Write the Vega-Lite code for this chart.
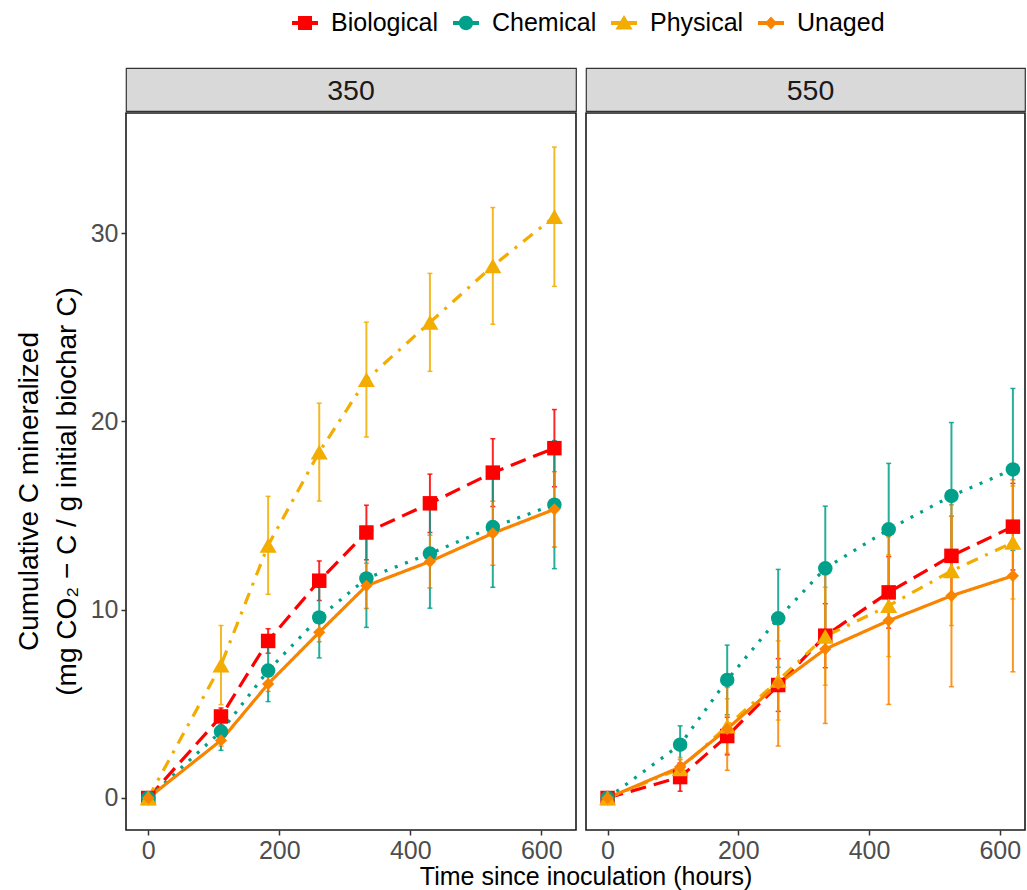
{
  "$schema": "https://vega.github.io/schema/vega-lite/v6.json",
  "padding": {"left": 14, "top": 10, "right": 0, "bottom": 0},
  "background": "white",
  "datasets": {
    "series": [
      {"panel": "350", "treatment": "Biological", "time": 0, "mean": 0, "lo": 0, "hi": 0},
      {"panel": "350", "treatment": "Biological", "time": 111, "mean": 4.33, "lo": 3.88, "hi": 4.78},
      {"panel": "350", "treatment": "Biological", "time": 183, "mean": 8.34, "lo": 7.69, "hi": 8.99},
      {"panel": "350", "treatment": "Biological", "time": 261, "mean": 11.54, "lo": 10.49, "hi": 12.59},
      {"panel": "350", "treatment": "Biological", "time": 333, "mean": 14.1, "lo": 12.65, "hi": 15.55},
      {"panel": "350", "treatment": "Biological", "time": 430, "mean": 15.65, "lo": 14.1, "hi": 17.2},
      {"panel": "350", "treatment": "Biological", "time": 526, "mean": 17.28, "lo": 15.48, "hi": 19.08},
      {"panel": "350", "treatment": "Biological", "time": 620, "mean": 18.58, "lo": 16.53, "hi": 20.63},
      {"panel": "350", "treatment": "Chemical", "time": 0, "mean": 0, "lo": 0, "hi": 0},
      {"panel": "350", "treatment": "Chemical", "time": 111, "mean": 3.53, "lo": 2.53, "hi": 4.53},
      {"panel": "350", "treatment": "Chemical", "time": 183, "mean": 6.77, "lo": 5.12, "hi": 8.42},
      {"panel": "350", "treatment": "Chemical", "time": 261, "mean": 9.59, "lo": 7.44, "hi": 11.74},
      {"panel": "350", "treatment": "Chemical", "time": 333, "mean": 11.66, "lo": 9.06, "hi": 14.26},
      {"panel": "350", "treatment": "Chemical", "time": 430, "mean": 12.98, "lo": 10.08, "hi": 15.88},
      {"panel": "350", "treatment": "Chemical", "time": 526, "mean": 14.39, "lo": 11.19, "hi": 17.59},
      {"panel": "350", "treatment": "Chemical", "time": 620, "mean": 15.58, "lo": 12.18, "hi": 18.98},
      {"panel": "350", "treatment": "Physical", "time": 0, "mean": 0, "lo": 0, "hi": 0},
      {"panel": "350", "treatment": "Physical", "time": 111, "mean": 7.06, "lo": 4.96, "hi": 9.16},
      {"panel": "350", "treatment": "Physical", "time": 183, "mean": 13.42, "lo": 10.82, "hi": 16.02},
      {"panel": "350", "treatment": "Physical", "time": 261, "mean": 18.37, "lo": 15.77, "hi": 20.97},
      {"panel": "350", "treatment": "Physical", "time": 333, "mean": 22.22, "lo": 19.17, "hi": 25.27},
      {"panel": "350", "treatment": "Physical", "time": 430, "mean": 25.26, "lo": 22.66, "hi": 27.86},
      {"panel": "350", "treatment": "Physical", "time": 526, "mean": 28.26, "lo": 25.16, "hi": 31.36},
      {"panel": "350", "treatment": "Physical", "time": 620, "mean": 30.87, "lo": 27.17, "hi": 34.57},
      {"panel": "350", "treatment": "Unaged", "time": 0, "mean": 0, "lo": 0, "hi": 0},
      {"panel": "350", "treatment": "Unaged", "time": 111, "mean": 3.06, "lo": 2.76, "hi": 3.36},
      {"panel": "350", "treatment": "Unaged", "time": 183, "mean": 6.06, "lo": 5.66, "hi": 6.46},
      {"panel": "350", "treatment": "Unaged", "time": 261, "mean": 8.8, "lo": 8.3, "hi": 9.3},
      {"panel": "350", "treatment": "Unaged", "time": 333, "mean": 11.27, "lo": 10.07, "hi": 12.47},
      {"panel": "350", "treatment": "Unaged", "time": 430, "mean": 12.56, "lo": 11.16, "hi": 13.96},
      {"panel": "350", "treatment": "Unaged", "time": 526, "mean": 14.06, "lo": 12.36, "hi": 15.76},
      {"panel": "350", "treatment": "Unaged", "time": 620, "mean": 15.33, "lo": 13.33, "hi": 17.33},
      {"panel": "550", "treatment": "Biological", "time": 0, "mean": 0, "lo": 0, "hi": 0},
      {"panel": "550", "treatment": "Biological", "time": 111, "mean": 1.11, "lo": 0.36, "hi": 1.86},
      {"panel": "550", "treatment": "Biological", "time": 183, "mean": 3.29, "lo": 2.29, "hi": 4.29},
      {"panel": "550", "treatment": "Biological", "time": 261, "mean": 6.0, "lo": 4.6, "hi": 7.4},
      {"panel": "550", "treatment": "Biological", "time": 333, "mean": 8.62, "lo": 6.92, "hi": 10.32},
      {"panel": "550", "treatment": "Biological", "time": 430, "mean": 10.92, "lo": 9.02, "hi": 12.82},
      {"panel": "550", "treatment": "Biological", "time": 526, "mean": 12.86, "lo": 10.76, "hi": 14.96},
      {"panel": "550", "treatment": "Biological", "time": 620, "mean": 14.41, "lo": 12.11, "hi": 16.71},
      {"panel": "550", "treatment": "Chemical", "time": 0, "mean": 0, "lo": 0, "hi": 0},
      {"panel": "550", "treatment": "Chemical", "time": 111, "mean": 2.83, "lo": 1.83, "hi": 3.83},
      {"panel": "550", "treatment": "Chemical", "time": 183, "mean": 6.27, "lo": 4.42, "hi": 8.12},
      {"panel": "550", "treatment": "Chemical", "time": 261, "mean": 9.54, "lo": 6.94, "hi": 12.14},
      {"panel": "550", "treatment": "Chemical", "time": 333, "mean": 12.2, "lo": 8.9, "hi": 15.5},
      {"panel": "550", "treatment": "Chemical", "time": 430, "mean": 14.27, "lo": 10.77, "hi": 17.77},
      {"panel": "550", "treatment": "Chemical", "time": 526, "mean": 16.04, "lo": 12.14, "hi": 19.94},
      {"panel": "550", "treatment": "Chemical", "time": 620, "mean": 17.45, "lo": 13.15, "hi": 21.75},
      {"panel": "550", "treatment": "Physical", "time": 0, "mean": 0, "lo": 0, "hi": 0},
      {"panel": "550", "treatment": "Physical", "time": 111, "mean": 1.55, "lo": 0.95, "hi": 2.15},
      {"panel": "550", "treatment": "Physical", "time": 183, "mean": 3.82, "lo": 2.37, "hi": 5.27},
      {"panel": "550", "treatment": "Physical", "time": 261, "mean": 6.24, "lo": 4.14, "hi": 8.34},
      {"panel": "550", "treatment": "Physical", "time": 333, "mean": 8.59, "lo": 5.99, "hi": 11.19},
      {"panel": "550", "treatment": "Physical", "time": 430, "mean": 10.21, "lo": 7.51, "hi": 12.91},
      {"panel": "550", "treatment": "Physical", "time": 526, "mean": 12.06, "lo": 9.16, "hi": 14.96},
      {"panel": "550", "treatment": "Physical", "time": 620, "mean": 13.57, "lo": 10.57, "hi": 16.57},
      {"panel": "550", "treatment": "Unaged", "time": 0, "mean": 0, "lo": 0, "hi": 0},
      {"panel": "550", "treatment": "Unaged", "time": 111, "mean": 1.64, "lo": 1.24, "hi": 2.04},
      {"panel": "550", "treatment": "Unaged", "time": 183, "mean": 3.67, "lo": 1.47, "hi": 5.87},
      {"panel": "550", "treatment": "Unaged", "time": 261, "mean": 6.06, "lo": 2.76, "hi": 9.36},
      {"panel": "550", "treatment": "Unaged", "time": 333, "mean": 7.91, "lo": 3.96, "hi": 11.86},
      {"panel": "550", "treatment": "Unaged", "time": 430, "mean": 9.42, "lo": 4.97, "hi": 13.87},
      {"panel": "550", "treatment": "Unaged", "time": 526, "mean": 10.74, "lo": 5.91, "hi": 15.57},
      {"panel": "550", "treatment": "Unaged", "time": 620, "mean": 11.8, "lo": 6.7, "hi": 16.9}
    ],
    "strips": [
      {"panel": "350"},
      {"panel": "550"}
    ]
  },
  "title": {
    "text": "Time since inoculation (hours)",
    "orient": "bottom",
    "anchor": "middle",
    "fontSize": 25,
    "fontWeight": "normal",
    "font": "Liberation Sans",
    "color": "#000000",
    "offset": 1,
    "dx": 66
  },
  "hconcat": [
    {
      "spacing": 0,
      "vconcat": [
        {
          "width": 450,
          "height": 43,
          "data": {"name": "strips"},
          "transform": [{"filter": "datum.panel == '350'"}],
          "mark": {"type": "text", "fontSize": 28.5, "font": "Liberation Sans", "color": "#1A1A1A", "baseline": "middle", "align": "center", "dy": 1},
          "encoding": {"text": {"field": "panel", "type": "nominal"}},
          "view": {"fill": "#D9D9D9", "stroke": "#333333", "strokeWidth": 1.2}
        },
        {
          "width": 450,
          "height": 717,
          "data": {"name": "series"},
          "transform": [{"filter": "datum.panel == '350'"}],
          "encoding": {
            "x": {
              "field": "time", "type": "quantitative",
              "scale": {"domain": [-34, 653], "nice": false, "zero": false},
              "axis": {"values": [0, 200, 400, 600], "title": null}
            },
            "color": {
              "field": "treatment", "type": "nominal",
              "scale": {"domain": ["Biological", "Chemical", "Physical", "Unaged"], "range": ["#FF0000", "#00A08A", "#F2AD00", "#F98400"]},
              "legend": {
                "title": null,
                "orient": "none",
                "legendX": 166,
                "legendY": -58,
                "direction": "horizontal",
                "labelFontSize": 25,
                "labelFont": "Liberation Sans",
                "labelColor": "#000000",
                "symbolSize": 676,
                "symbolStrokeWidth": 0,
                "labelOffset": 13,
                "columnPadding": 14,
                "encode": {
                  "symbols": {
                    "update": {
                      "shape": {"signal": "datum.value === 'Biological' ? 'M-1,-0.15H1V0.15H-1Z M-0.54,-0.54H0.54V0.54H-0.54Z' : datum.value === 'Chemical' ? 'M-1,-0.15H1V0.15H-1Z M-0.55,0A0.55,0.55,0,1,1,0.55,0A0.55,0.55,0,1,1,-0.55,0Z' : datum.value === 'Physical' ? 'M-1,-0.15H1V0.15H-1Z M0,-0.62L0.66,0.5L-0.66,0.5Z' : 'M-1,-0.15H1V0.15H-1Z M0,-0.5L0.46,0L0,0.5L-0.46,0Z'"},
                      "fill": {"scale": "color", "field": "value"},
                      "strokeWidth": {"value": 0},
                      "opacity": {"value": 1}
                    }
                  }
                }
              }
            }
          },
          "layer": [
            {
              "mark": {"type": "errorbar", "ticks": {"size": 5, "thickness": 1.5}, "thickness": 2, "opacity": 0.85},
              "encoding": {
                "y": {"field": "lo", "type": "quantitative", "scale": {"domain": [-1.7, 36.38], "nice": false, "zero": false},
                  "axis": {"values": [0, 10, 20, 30], "titleY": 378, "title": ["Cumulative C mineralized", "(mg CO\u2082 \u2212 C / g initial biochar C)"]}},
                "y2": {"field": "hi"}
              }
            },
            {
              "mark": {"type": "line", "strokeWidth": 3.2},
              "encoding": {
                "y": {"field": "mean", "type": "quantitative"},
                "order": {"field": "time"},
                "strokeDash": {
                  "field": "treatment", "type": "nominal",
                  "scale": {"domain": ["Biological", "Chemical", "Physical", "Unaged"], "range": [[16, 8], [3, 8], [12, 8, 3, 8], [1, 0]]},
                  "legend": null
                }
              }
            },
            {
              "transform": [{"filter": "datum.treatment == 'Biological'"}],
              "mark": {"type": "point", "filled": true, "opacity": 1, "shape": "square", "size": 210},
              "encoding": {"y": {"field": "mean", "type": "quantitative"}}
            },
            {
              "transform": [{"filter": "datum.treatment == 'Chemical'"}],
              "mark": {"type": "point", "filled": true, "opacity": 1, "shape": "circle", "size": 210},
              "encoding": {"y": {"field": "mean", "type": "quantitative"}}
            },
            {
              "transform": [{"filter": "datum.treatment == 'Physical'"}],
              "mark": {"type": "point", "filled": true, "opacity": 1, "shape": "triangle-up", "size": 290},
              "encoding": {"y": {"field": "mean", "type": "quantitative"}}
            },
            {
              "transform": [{"filter": "datum.treatment == 'Unaged'"}],
              "mark": {"type": "point", "filled": true, "opacity": 1, "shape": "diamond", "size": 150},
              "encoding": {"y": {"field": "mean", "type": "quantitative"}}
            }
          ]
        }
      ]
    },
    {
      "spacing": 0,
      "vconcat": [
        {
          "width": 439,
          "height": 43,
          "data": {"name": "strips"},
          "transform": [{"filter": "datum.panel == '550'"}],
          "mark": {"type": "text", "fontSize": 28.5, "font": "Liberation Sans", "color": "#1A1A1A", "baseline": "middle", "align": "center", "dx": 5, "dy": 1},
          "encoding": {"text": {"field": "panel", "type": "nominal"}},
          "view": {"fill": "#D9D9D9", "stroke": "#333333", "strokeWidth": 1.2}
        },
        {
          "width": 439,
          "height": 717,
          "data": {"name": "series"},
          "transform": [{"filter": "datum.panel == '550'"}],
          "encoding": {
            "x": {
              "field": "time", "type": "quantitative",
              "scale": {"domain": [-33, 638.5], "nice": false, "zero": false},
              "axis": {"values": [0, 200, 400, 600], "title": null}
            },
            "color": {
              "field": "treatment", "type": "nominal",
              "scale": {"domain": ["Biological", "Chemical", "Physical", "Unaged"], "range": ["#FF0000", "#00A08A", "#F2AD00", "#F98400"]}
            }
          },
          "layer": [
            {
              "mark": {"type": "errorbar", "ticks": {"size": 5, "thickness": 1.5}, "thickness": 2, "opacity": 0.85},
              "encoding": {
                "y": {"field": "lo", "type": "quantitative", "scale": {"domain": [-1.7, 36.38], "nice": false, "zero": false}, "axis": null},
                "y2": {"field": "hi"}
              }
            },
            {
              "mark": {"type": "line", "strokeWidth": 3.2},
              "encoding": {
                "y": {"field": "mean", "type": "quantitative"},
                "order": {"field": "time"},
                "strokeDash": {
                  "field": "treatment", "type": "nominal",
                  "scale": {"domain": ["Biological", "Chemical", "Physical", "Unaged"], "range": [[16, 8], [3, 8], [12, 8, 3, 8], [1, 0]]},
                  "legend": null
                }
              }
            },
            {
              "transform": [{"filter": "datum.treatment == 'Biological'"}],
              "mark": {"type": "point", "filled": true, "opacity": 1, "shape": "square", "size": 210},
              "encoding": {"y": {"field": "mean", "type": "quantitative"}}
            },
            {
              "transform": [{"filter": "datum.treatment == 'Chemical'"}],
              "mark": {"type": "point", "filled": true, "opacity": 1, "shape": "circle", "size": 210},
              "encoding": {"y": {"field": "mean", "type": "quantitative"}}
            },
            {
              "transform": [{"filter": "datum.treatment == 'Physical'"}],
              "mark": {"type": "point", "filled": true, "opacity": 1, "shape": "triangle-up", "size": 290},
              "encoding": {"y": {"field": "mean", "type": "quantitative"}}
            },
            {
              "transform": [{"filter": "datum.treatment == 'Unaged'"}],
              "mark": {"type": "point", "filled": true, "opacity": 1, "shape": "diamond", "size": 150},
              "encoding": {"y": {"field": "mean", "type": "quantitative"}}
            }
          ]
        }
      ]
    }
  ],
  "spacing": 8,
  "resolve": {"scale": {"color": "shared", "strokeDash": "shared"}, "legend": {"color": "shared"}},
  "config": {
    "font": "Liberation Sans",
    "view": {"stroke": "#1A1A1A", "strokeWidth": 1.6},
    "axis": {
      "grid": false,
      "domain": false,
      "ticks": true,
      "tickSize": 5,
      "tickColor": "#333333",
      "tickWidth": 1.5,
      "labelFont": "Liberation Sans",
      "labelFontSize": 25,
      "labelColor": "#4D4D4D",
      "labelPadding": 3,
      "titleFont": "Liberation Sans",
      "titleFontSize": 28,
      "titleFontWeight": "normal",
      "titleColor": "#000000",
      "titleLineHeight": 38,
      "titlePadding": 9
    }
  }
}
